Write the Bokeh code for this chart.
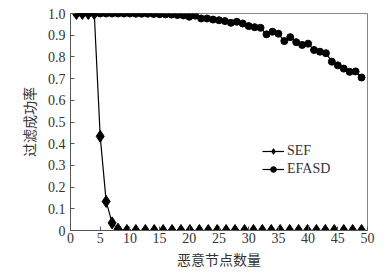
from bokeh.plotting import figure
from bokeh.models import FixedTicker, Legend, LegendItem
from bokeh.embed import file_html
from bokeh.resources import INLINE

# Data
sef_x = [1, 2, 3, 4, 5, 6, 7, 8, 9.5, 11, 12.6, 14.1, 15.6, 17.1, 18.6, 20.1, 21.7,
         23.2, 24.7, 26.2, 27.7, 29.3, 30.8, 32.3, 33.8, 35.3, 36.9, 38.4, 39.9,
         41.4, 42.9, 44.4, 46.0, 47.5, 49.0]
sef_y = [1.0, 1.0, 1.0, 1.0, 0.434, 0.134, 0.035, 0.006] + [0.0] * 27

efasd_x = list(range(1, 50))
efasd_y = [1.0, 1.0, 1.0, 1.0, 1.0, 1.0, 1.0, 1.0, 1.0, 1.0,
           0.999, 0.999, 0.999, 0.998, 0.997, 0.996, 0.995, 0.993, 0.991, 0.985,
           0.990, 0.977, 0.977, 0.972, 0.969, 0.965, 0.957, 0.962, 0.954, 0.942,
           0.937, 0.934, 0.904, 0.916, 0.907, 0.873, 0.891, 0.868, 0.855, 0.861,
           0.832, 0.824, 0.817, 0.778, 0.761, 0.746, 0.731, 0.733, 0.705]

x_ticks = [0, 5, 10, 15, 20, 25, 30, 35, 40, 45, 50]
y_ticks = [0, 0.1, 0.2, 0.3, 0.4, 0.5, 0.6, 0.7, 0.8, 0.9, 1.0]
y_tick_labels = ["0", "0.1", "0.2", "0.3", "0.4", "0.5", "0.6", "0.7", "0.8", "0.9", "1.0"]
x_label = "恶意节点数量"
y_label = "过滤成功率"
series_names = ["SEF", "EFASD"]

p = figure(width=377, height=271, output_backend="svg", toolbar_location=None,
           x_range=(0, 50), y_range=(0, 1.0),
           min_border_left=70, min_border_top=13, min_border_right=10, min_border_bottom=38)

p.grid.visible = False
p.outline_line_color = "#888888"
p.background_fill_color = "white"
p.border_fill_color = "white"

serif = "Liberation Serif"
cjk = "Noto Sans CJK SC"

for ax in (p.xaxis[0], p.yaxis[0]):
    ax.axis_line_color = "#555555"
    ax.major_tick_line_color = "#555555"
    ax.major_tick_in = 4
    ax.major_tick_out = 0
    ax.minor_tick_line_color = None
    ax.major_label_text_font = serif
    ax.major_label_text_font_size = "14px"
    ax.major_label_text_color = "#333333"
    ax.axis_label_text_font = cjk
    ax.axis_label_text_font_size = "14px"
    ax.axis_label_text_font_style = "normal"
    ax.axis_label_text_color = "#333333"

p.xaxis.ticker = FixedTicker(ticks=x_ticks)
p.yaxis.ticker = FixedTicker(ticks=y_ticks)
p.yaxis.major_label_overrides = {t: s for t, s in zip(y_ticks, y_tick_labels)}
p.xaxis.major_label_standoff = 2
p.yaxis.major_label_standoff = 5
p.xaxis.axis_label = x_label
p.yaxis.axis_label = y_label
p.xaxis.axis_label_standoff = 3
p.yaxis.axis_label_standoff = 6

l1 = p.line(sef_x, sef_y, line_color="black", line_width=1.2)
m1 = p.scatter(sef_x, sef_y, marker="diamond", size=12, fill_color="black", line_color="black")
l2 = p.line(efasd_x, efasd_y, line_color="black", line_width=1.2)
m2 = p.scatter(efasd_x, efasd_y, marker="circle", size=7, fill_color="black", line_color="black")

legend = Legend(items=[LegendItem(label=series_names[0], renderers=[l1, m1]),
                       LegendItem(label=series_names[1], renderers=[l2, m2])],
                location=(192, 53))
legend.border_line_color = None
legend.background_fill_alpha = 0
legend.label_text_font = serif
legend.label_text_font_size = "14px"
legend.label_text_color = "#333333"
legend.glyph_width = 22
legend.glyph_height = 14
legend.label_height = 14
legend.label_standoff = 3
legend.spacing = 2
legend.padding = 0
legend.margin = 0
p.add_layout(legend)

open("out.html", "w").write(file_html(p, INLINE))
